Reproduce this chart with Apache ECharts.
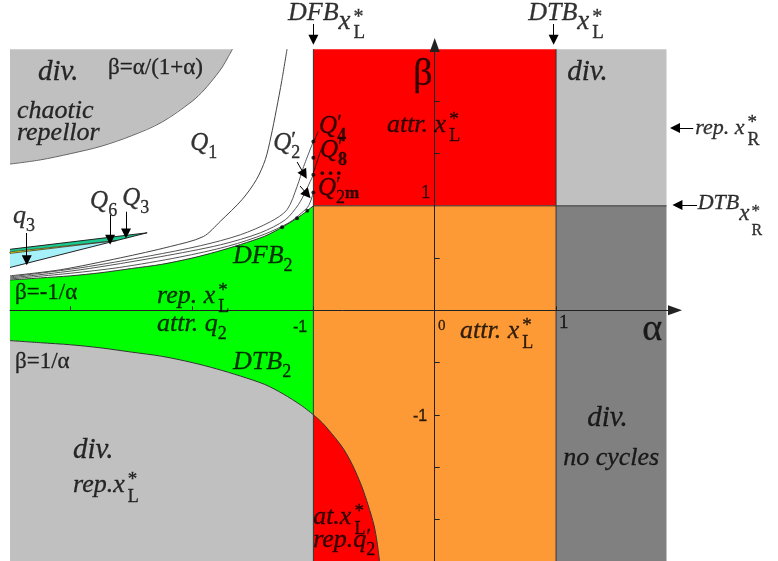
<!DOCTYPE html>
<html><head><meta charset="utf-8">
<script src="https://cdn.jsdelivr.net/npm/echarts@6/dist/echarts.min.js"></script>
<style>html,body{margin:0;padding:0;background:#fff}#c{width:778px;height:561px}</style>
</head><body><div id="c"></div>
<script>
// ---------------- data ----------------
const alphaTicks = [-3, -2, -1, 0, 1];
const alphaTickLabels = ['-1', '0', '1'];
const betaTicks = [-2, -1.5, -1, -0.5, 0.5, 1.5, 2];
const betaTickLabels = ['1', '-1'];

// strip borders of the parameter plane
const stripAlpha = [-3.5, -1, 1, 1.91];
const stripBeta = [-2.4, 1, 2.5];

// DTB2 : beta = 1/alpha (alpha < -1)
const dtb2Alpha = [-3.5, -3.25, -3, -2.75, -2.5, -2.25, -2, -1.8, -1.6, -1.4, -1.25, -1.1, -1];
const dtb2Beta  = [-0.29, -0.31, -0.33, -0.36, -0.40, -0.44, -0.50, -0.56, -0.63, -0.71, -0.80, -0.91, -1.00];
// DFB2 : beta = -1/alpha (alpha < -1)
const dfb2Alpha = [-3.5, -3.25, -3, -2.75, -2.5, -2.25, -2, -1.8, -1.6, -1.4, -1.25, -1.1, -1];
const dfb2Beta  = [0.29, 0.31, 0.33, 0.36, 0.40, 0.44, 0.50, 0.56, 0.63, 0.71, 0.80, 0.91, 1.00];
// lower red region boundary (-1 < alpha < 0)
const redAlpha = [-1, -0.95, -0.9, -0.85, -0.8, -0.75, -0.7, -0.65, -0.6, -0.55, -0.5, -0.475, -0.455];
const redBeta  = [-1, -1.05, -1.11, -1.18, -1.25, -1.33, -1.43, -1.55, -1.69, -1.86, -2.06, -2.22, -2.40];
// beta = alpha/(1+alpha)
const ratioAlpha = [-3.5, -3.25, -3, -2.75, -2.5, -2.25, -2, -1.9, -1.8, -1.75, -1.7, -1.667];
const ratioBeta  = [1.40, 1.44, 1.50, 1.57, 1.67, 1.80, 2.00, 2.11, 2.25, 2.33, 2.43, 2.50];

// border-collision curves in the white area
const c1Alpha = [-1.217, -1.26, -1.305, -1.35, -1.396, -1.47, -1.586, -1.767, -1.907, -2.179, -2.591, -3.086, -3.5];
const c1Beta  = [2.5, 2.2, 1.92, 1.66, 1.443, 1.25, 1.062, 0.852, 0.706, 0.611, 0.502, 0.388, 0.33];
const c2Alpha = [-1.0, -1.08, -1.134, -1.217, -1.354, -1.602, -1.932, -2.344, -2.921, -3.5];
const c2Beta  = [1.617, 1.377, 1.186, 0.963, 0.848, 0.723, 0.618, 0.522, 0.407, 0.32];
const c3Alpha = [-1.0, -1.066, -1.124, -1.231, -1.437, -1.767, -2.262, -2.921, -3.5];
const c3Beta  = [1.298, 1.135, 1.011, 0.867, 0.742, 0.627, 0.513, 0.388, 0.31];
const c4Alpha = [-1.0, -1.04, -1.1, -1.2, -1.4, -1.7, -2.1, -2.6, -3.0, -3.5];
const c4Beta  = [1.128, 1.0, 0.93, 0.84, 0.73, 0.615, 0.51, 0.41, 0.355, 0.30];

// thin wedge of Q3 / Q6 / q3
const wedgeTop = [[-3.5, 0.584], [-2.37, 0.742]];
const wedgeBottom = [[-3.5, 0.41], [-2.37, 0.742]];
const q3Region = [[-3.5, 0.584], [-2.37, 0.742], [-2.62, 0.668], [-3.5, 0.56]];
const q6Region = [[-3.5, 0.56], [-2.62, 0.668], [-3.5, 0.545]];
const q3smallRegion = [[-3.5, 0.545], [-2.62, 0.668], [-3.5, 0.41]];

// period-doubling cascade points
const cascadeDots = [[-1, 1.617], [-1, 1.46], [-1, 1.298], [-1, 1.128], [-1.05, 0.952], [-1.134, 0.882], [-1.258, 0.795]];

// ---------------- helpers ----------------
const zip = (a, b) => a.map((v, i) => [v, b[i]]);
const rect = (a0, a1, b0, b1) => [[a0, b0], [a1, b0], [a1, b1], [a0, b1]];

function poly(points, fill, z, stroke) {
  return {
    type: 'custom', coordinateSystem: 'cartesian2d', silent: true, z: z || 1, clip: false,
    data: points,
    renderItem: (p, api) => {
      if (p.dataIndex !== 0) return null;
      return {
        type: 'polygon',
        shape: { points: points.map(pt => api.coord(pt)) },
        style: { fill: fill, stroke: stroke || null, lineWidth: stroke ? 0.8 : 0 }
      };
    }
  };
}
function lineS(points, color, width, z, smooth) {
  return {
    type: 'line', data: points, showSymbol: false, symbol: 'none', silent: true,
    lineStyle: { color: color, width: width }, smooth: smooth || 0, z: z || 3, clip: false
  };
}

// rich text token builder (fixed line box so sub/superscripts can be shifted)
const H = 60;
const SERIF = 'Liberation Serif';
const SANS = 'Liberation Sans';
function tk(size, shift, extra, pl) {
  const pad = (H - size) / 2;
  return Object.assign({ fontFamily: SERIF, fontStyle: 'normal', fontWeight: 'normal', fontSize: size, lineHeight: size,
    padding: [pad + shift, 0, pad - shift, pl || 0], color: '#000',
    textBorderColor: '#000', textBorderWidth: 0.3 }, extra || {});
}
const I = { fontStyle: 'italic' };
const IT = { fontStyle: 'italic', color: 'rgba(0,0,0,0)', textBorderColor: 'rgba(0,0,0,0)', textBorderWidth: 0 };
const rich = {
  it: tk(26, 0, I), itT: tk(26, 0, IT),
  dv: tk(29, 0, I),
  it22: tk(22, 0, I), it22T: tk(22, 0, IT),
  q: tk(25, 0, I), qT: tk(25, 0, IT),
  rm: tk(23, 0),
  big: tk(38, 0),
  n15: tk(15, 0), n19: tk(19, 0), s16: tk(16, 0, { fontFamily: SANS }),
  sb: tk(18, 10), sbB: tk(18, 10, { fontWeight: 'bold' }), mB: tk(17, 6, { fontWeight: 'bold' }),
  sL: tk(18, 12, null, 3), st: tk(19, -5, null, 3),
  pr: tk(22, -3),
  xl: tk(27, 8, I), xlT: tk(27, 8, IT), xL: tk(19, 19, null, 3), xs: tk(20, 4, null, 3),
  xl2: tk(23, 11, I), xl2T: tk(23, 11, IT), xR: tk(16, 28, null, 2), xs2: tk(17, 9, null, 2),
  dots: { fontFamily: SANS, fontSize: 13, fontWeight: 'bold', lineHeight: 13, padding: [23.5, 0, 23.5, 0], color: '#000' }
};

// text annotations: anchor = left / middle of the text, in (alpha, beta)
const notes = [
  { c: [-3.27, 2.275], t: '{dv|div.}' },
  { c: [-2.692, 2.323], t: '{rm|β=α/(1+α)}' },
  { c: [-3.443, 1.911], t: '{it|chaotic}' },
  { c: [-3.443, 1.70], t: '{it|repellor}' },
  { c: [-2.015, 1.60], t: '{q|Q}{sb|1}' },
  { c: [-1.331, 1.60], t: '{q|Q}{sb|2}', s: '{qT|Q}{pr|′}' },
  { c: [-0.953, 1.76], t: '{q|Q}{sbB|4}', s: '{qT|Q}{pr|′}' },
  { c: [-0.945, 1.53], t: '{q|Q}{sbB|8}', s: '{qT|Q}{pr|′}' },
  { c: [-0.945, 1.308], t: '{dots|• • •}' },
  { c: [-0.962, 1.17], t: '{q|Q}{sb|2}{mB|m}', s: '{qT|Q}{pr|′}' },
  { c: [-0.394, 1.777], t: '{it|attr. x}{sL|L}', s: '{itT|attr. x}{st|*}' },
  { c: [-0.177, 2.256], t: '{big|β}' },
  { c: [1.092, 2.275], t: '{dv|div.}' },
  { c: [-1.209, 2.84], t: '{it|DFB}{xl|x}{xL|L}', s: '{itT|DFB}{xlT|x}{xs|*}' },
  { c: [0.77, 2.84], t: '{it|DTB}{xl|x}{xL|L}', s: '{itT|DTB}{xlT|x}{xs|*}' },
  { c: [2.147, 1.745], t: '{it22|rep. x}{sL|R}', s: '{it22T|rep. x}{st|*}' },
  { c: [2.167, 1.03], t: '{it22|DTB}{xl2|x}{xR|R}', s: '{it22T|DTB}{xl2T|x}{xs2|*}' },
  { c: [-3.475, 0.90], t: '{it|q}{sb|3}' },
  { c: [-2.84, 1.04], t: '{q|Q}{sb|6}' },
  { c: [-2.576, 1.07], t: '{q|Q}{sb|3}' },
  { c: [-1.662, 0.522], t: '{it|DFB}{sb|2}' },
  { c: [-3.459, 0.168], t: '{rm|β=-1/α}' },
  { c: [-2.288, 0.14], t: '{it|rep. x}{sL|L}', s: '{itT|rep. x}{st|*}' },
  { c: [-2.288, -0.135], t: '{it|attr. q}{sb|2}' },
  { c: [-3.459, -0.493], t: '{rm|β=1/α}' },
  { c: [-1.662, -0.493], t: '{it|DTB}{sb|2}' },
  { c: [-2.981, -1.34], t: '{dv|div.}' },
  { c: [-2.981, -1.672], t: '{it|rep.x}{sL|L}', s: '{itT|rep.x}{st|*}' },
  { c: [0.209, -0.196], t: '{it|attr. x}{sL|L}', s: '{itT|attr. x}{st|*}' },
  { c: [1.71, -0.187], t: '{big|α}' },
  { c: [1.256, -1.03], t: '{dv|div.}' },
  { c: [1.059, -1.414], t: '{it|no cycles}' },
  { c: [-1.002, -1.978], t: '{it|at.x}{sL|L}', s: '{itT|at.x}{st|*}' },
  { c: [-1.002, -2.198], t: '{it|rep.q}{sb|2}', s: '{itT|rep.q}{pr|′}' },
  // tick labels of the crossing axes
  { c: [-1.168, -0.165], t: '{s16|' + alphaTickLabels[0] + '}' },
  { c: [0.027, -0.15], t: '{n15|' + alphaTickLabels[1] + '}' },
  { c: [1.024, -0.122], t: '{n19|' + alphaTickLabels[2] + '}' },
  { c: [-0.113, 1.123], t: '{n19|' + betaTickLabels[0] + '}' },
  { c: [-0.179, -1.022], t: '{s16|' + betaTickLabels[1] + '}' }
];

// arrows (start, end)
const arrows = [
  [[-1, 2.741], [-1, 2.59]],
  [[0.98, 2.741], [0.98, 2.59]],
  [[2.13, 1.745], [1.98, 1.745]],
  [[2.162, 1.008], [2.0, 1.008]],
  [[-3.362, 0.74], [-3.362, 0.48]],
  [[-2.675, 0.912], [-2.675, 0.675]],
  [[-2.544, 0.944], [-2.544, 0.735]],
  [[-1.134, 1.42], [-1.075, 1.30]],
  [[-1.11, 1.19], [-1.05, 1.11]]
];
const pointers = [
  [[-0.96, 1.713], [-1.0, 1.604]],
  [[-0.937, 1.537], [-1.0, 1.317]]
];

// ---------------- build ----------------
const A = stripAlpha, B = stripBeta;
const series = [
  poly(rect(A[1], A[2], B[1], B[2]), '#ff0000'),
  poly(rect(A[1], A[2], B[0], B[1]), '#fd9a36'),
  poly(zip(redAlpha, redBeta).concat([[-1, -2.4]]), '#ff0000'),
  poly(rect(A[2], A[3], B[1], B[2]), '#c0c0c0'),
  poly(rect(A[2], A[3], B[0], B[1]), '#808080'),
  poly([[A[0], B[2]]].concat(zip(ratioAlpha, ratioBeta).reverse()), '#c0c0c0'),
  poly([[A[0], B[0]], [A[1], B[0]]].concat(zip(dtb2Alpha, dtb2Beta).reverse()), '#c0c0c0'),
  poly(zip(dtb2Alpha, dtb2Beta).concat(zip(dfb2Alpha, dfb2Beta).reverse()), '#00ff00'),
  poly(q3smallRegion, '#a6f0fa', 2),
  poly(q3Region, '#19c98e', 2),
  poly(q6Region, '#ffff00', 2, '#333'),
  lineS([[A[1], B[0]], [A[1], B[2]]], '#333', 1),
  lineS([[A[2], B[0]], [A[2], B[2]]], '#333', 1),
  lineS([[A[1], B[1]], [A[3], B[1]]], '#333', 1),
  lineS(zip(dtb2Alpha, dtb2Beta), '#333', 1, 3, 0.3),
  lineS(zip(redAlpha, redBeta), '#333', 1, 3, 0.3),
  lineS(zip(dfb2Alpha, dfb2Beta), '#333', 1, 3, 0.3),
  lineS(zip(ratioAlpha, ratioBeta), '#666', 1, 3, 0.3),
  lineS(zip(c1Alpha, c1Beta), '#444', 1, 3, 0.3),
  lineS(zip(c2Alpha, c2Beta), '#555', 1, 3, 0.3),
  lineS(zip(c3Alpha, c3Beta), '#555', 1, 3, 0.3),
  lineS(zip(c4Alpha, c4Beta), '#555', 1, 3, 0.3),
  lineS(wedgeTop, '#222', 1),
  lineS(wedgeBottom, '#222', 1),
  {
    type: 'scatter', data: cascadeDots, symbolSize: 4, itemStyle: { color: '#000' }, z: 6, silent: true, clip: false
  },
  {
    type: 'lines', coordinateSystem: 'cartesian2d', silent: true, z: 6, clip: false,
    data: arrows.map(a => ({ coords: a })), symbol: ['none', 'triangle'], symbolSize: 10,
    lineStyle: { color: '#000', width: 1, opacity: 1 }
  },
  {
    type: 'lines', coordinateSystem: 'cartesian2d', silent: true, z: 6, clip: false,
    data: pointers.map(a => ({ coords: a })), symbol: ['none', 'none'],
    lineStyle: { color: '#000', width: 0.8, opacity: 1 }
  },
  {
    type: 'scatter', symbolSize: 0, clip: false, z: 10, silent: true,
    itemStyle: { color: 'rgba(0,0,0,0)' },
    label: { show: true, position: [0, 0], align: 'left', verticalAlign: 'middle',
      fontFamily: SERIF, fontStyle: 'normal', fontSize: 24, color: '#000', rich: rich },
    data: notes.flatMap(o => {
      const out = [{ value: o.c, label: { formatter: o.t } }];
      if (o.s) out.push({ value: o.c, label: { formatter: o.s } });
      return out;
    })
  }
];

const chart = echarts.init(document.getElementById('c'), null, { renderer: 'canvas' });
chart.setOption({
  animation: false,
  backgroundColor: '#fff',
  textStyle: { fontFamily: SERIF },
  grid: { left: 10, right: 103, top: 45, bottom: 0, containLabel: false, outerBoundsMode: 'none' },
  xAxis: {
    type: 'value', min: -3.5, max: 1.98, z: 5,
    axisLine: { onZero: true, symbol: ['none', 'triangle'], symbolSize: [10, 14], lineStyle: { color: '#222', width: 1 } },
    axisTick: { show: true, inside: true, length: 4, customValues: alphaTicks, lineStyle: { color: '#222' } },
    axisLabel: { show: false },
    splitLine: { show: false }
  },
  yAxis: {
    type: 'value', min: -2.4, max: 2.54, z: 5,
    axisLine: { onZero: true, symbol: ['none', 'triangle'], symbolSize: [10, 14], lineStyle: { color: '#222', width: 1 } },
    axisTick: { show: true, inside: true, length: 5, customValues: betaTicks, lineStyle: { color: '#222' } },
    axisLabel: { show: false },
    splitLine: { show: false }
  },
  series: series
});
</script>
</body></html>
